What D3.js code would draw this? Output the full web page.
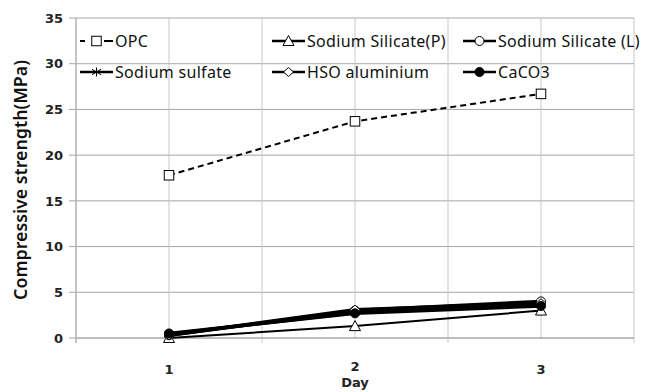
<!DOCTYPE html>
<html><head><meta charset="utf-8">
<script src="https://cdn.jsdelivr.net/npm/d3@7"></script>
<style>body{margin:0;background:#fff}svg{display:block}</style>
</head><body>
<script>
const days = [1, 2, 3];
const yTicks = [0, 5, 10, 15, 20, 25, 30, 35];
const seriesNames = ["OPC", "Sodium Silicate(P)", "Sodium Silicate (L)", "Sodium sulfate", "HSO aluminium", "CaCO3"];
const opc = [17.8, 23.7, 26.7];
const silicateP = [0.0, 1.3, 3.0];
const silicateL = [0.3, 3.0, 4.0];
const sulfate = [0.4, 2.8, 3.6];
const hso = [0.3, 3.1, 3.8];
const caco3 = [0.5, 2.7, 3.5];

const W = 649, H = 392;
const margin = {left: 76, right: 15, top: 18, bottom: 54};
const svg = d3.select("body").append("svg").attr("width", W).attr("height", H);
const x = d3.scaleLinear().domain([0.5, 3.5]).range([margin.left, W - margin.right]);
const y = d3.scaleLinear().domain([0, 35]).range([H - margin.bottom, margin.top]);

const tickFont = "'DejaVu Sans', sans-serif";
// gridlines
const grid = svg.append("g");
grid.selectAll("line.h").data(yTicks).join("line")
  .attr("x1", x(0.5) - 7).attr("x2", x(3.5)).attr("y1", d => y(d)).attr("y2", d => y(d))
  .attr("stroke", "#a6a6a6").attr("stroke-width", 1);
const vx = d3.range(0.5, 3.51, 0.5);
grid.selectAll("line.v").data(vx).join("line")
  .attr("x1", d => x(d)).attr("x2", d => x(d))
  .attr("y1", y(35)).attr("y2", d => (d % 1 === 0.5 ? y(0) + 5 : y(0)))
  .attr("stroke", "#c8c8c8").attr("stroke-width", 1);
svg.append("line").attr("x1", x(0.5)).attr("x2", x(0.5)).attr("y1", y(35)).attr("y2", y(0) + 5)
  .attr("stroke", "#a6a6a6");
svg.append("line").attr("x1", x(0.5)).attr("x2", x(3.5)).attr("y1", y(0)).attr("y2", y(0))
  .attr("stroke", "#a6a6a6");

// y tick labels
svg.append("g").selectAll("text").data(yTicks).join("text")
  .attr("x", x(0.5) - 13).attr("y", d => y(d)).attr("dy", "0.36em")
  .attr("text-anchor", "end").attr("font-family", tickFont).attr("font-weight", "bold")
  .attr("font-size", 13).attr("fill", "#222").text(d => d);
// x tick labels
svg.append("g").selectAll("text").data(days).join("text")
  .attr("x", d => x(d)).attr("y", d => d === 2 ? 371 : 374)
  .attr("text-anchor", "middle").attr("font-family", tickFont).attr("font-weight", "bold")
  .attr("font-size", 13).attr("fill", "#222").text(d => d);
svg.append("text").attr("x", x(2)).attr("y", 387).attr("text-anchor", "middle")
  .attr("font-family", tickFont).attr("font-weight", "bold").attr("font-size", 13)
  .attr("fill", "#222").text("Day");
// y title
svg.append("text").attr("transform", `translate(27,180) rotate(-90)`)
  .attr("text-anchor", "middle").attr("font-family", "'Noto Sans', sans-serif")
  .attr("font-size", 17.8).attr("font-weight", 600).attr("fill", "#111")
  .text("Compressive strength(MPa)");

const seriesData = [opc, silicateP, silicateL, sulfate, hso, caco3];
const styles = [
  {dash: "6,4", w: 2, marker: "square"},
  {dash: null, w: 2, marker: "triangle"},
  {dash: null, w: 3.5, marker: "circle"},
  {dash: null, w: 3.5, marker: "asterisk"},
  {dash: null, w: 3.5, marker: "diamond"},
  {dash: null, w: 3.5, marker: "filled"}
];

function drawMarker(g, type, cx, cy) {
  const s = 8.5;
  if (type === "square") g.append("rect").attr("x", cx - s/2 - 0.5).attr("y", cy - s/2 - 0.5).attr("width", s + 1).attr("height", s + 1)
    .attr("fill", "#fff").attr("stroke", "#000").attr("stroke-width", 1);
  else if (type === "triangle") g.append("path").attr("d", `M${cx},${cy - 5.5}L${cx + 5.5},${cy + 4.5}L${cx - 5.5},${cy + 4.5}Z`)
    .attr("fill", "#fff").attr("stroke", "#000").attr("stroke-width", 1);
  else if (type === "circle") g.append("circle").attr("cx", cx).attr("cy", cy).attr("r", 4.5)
    .attr("fill", "#fff").attr("stroke", "#000").attr("stroke-width", 1);
  else if (type === "diamond") g.append("path").attr("d", `M${cx},${cy - 4.5}L${cx + 5},${cy}L${cx},${cy + 4.5}L${cx - 5},${cy}Z`)
    .attr("fill", "#fff").attr("stroke", "#000").attr("stroke-width", 1);
  else if (type === "filled") g.append("circle").attr("cx", cx).attr("cy", cy).attr("r", 4.5)
    .attr("fill", "#000").attr("stroke", "#000").attr("stroke-width", 1);
  else if (type === "asterisk") {
    const r = 4.5;
    [[0, -r, 0, r], [-r, -r*0.6, r, r*0.6], [-r, r*0.6, r, -r*0.6]].forEach(l =>
      g.append("line").attr("x1", cx + l[0]).attr("y1", cy + l[1]).attr("x2", cx + l[2]).attr("y2", cy + l[3])
        .attr("stroke", "#000").attr("stroke-width", 1));
  }
}

const line = d3.line().x((d, i) => x(days[i])).y(d => y(d));
const plot = svg.append("g");
const order = [1, 2, 3, 4, 5, 0];
order.forEach(k => {
  plot.append("path").datum(seriesData[k]).attr("d", line).attr("fill", "none")
    .attr("stroke", "#000").attr("stroke-width", styles[k].w)
    .attr("stroke-dasharray", styles[k].dash);
});
order.forEach(k => {
  seriesData[k].forEach((v, i) => drawMarker(plot, styles[k].marker, x(days[i]), y(v)));
});

// legend
const legPos = [[80, 41], [272, 41], [463, 41], [80, 72], [272, 72], [463, 72]];
const leg = svg.append("g");
seriesNames.forEach((n, k) => {
  const [lx, ly] = legPos[k];
  const g = leg.append("g");
  g.append("line").attr("x1", lx).attr("x2", lx + 33).attr("y1", ly).attr("y2", ly)
    .attr("stroke", "#000").attr("stroke-width", k === 0 ? 2 : 2.5)
    .attr("stroke-dasharray", k === 0 ? "5,9,5" : null);
  drawMarker(g, styles[k].marker, lx + 16.5, ly);
  g.append("text").attr("x", lx + 35).attr("y", ly).attr("dy", "0.36em")
    .attr("font-family", "'Noto Sans', sans-serif").attr("font-size", 16)
    .attr("letter-spacing", 0.3).attr("fill", "#111").text(n);
});
</script>
</body></html>
